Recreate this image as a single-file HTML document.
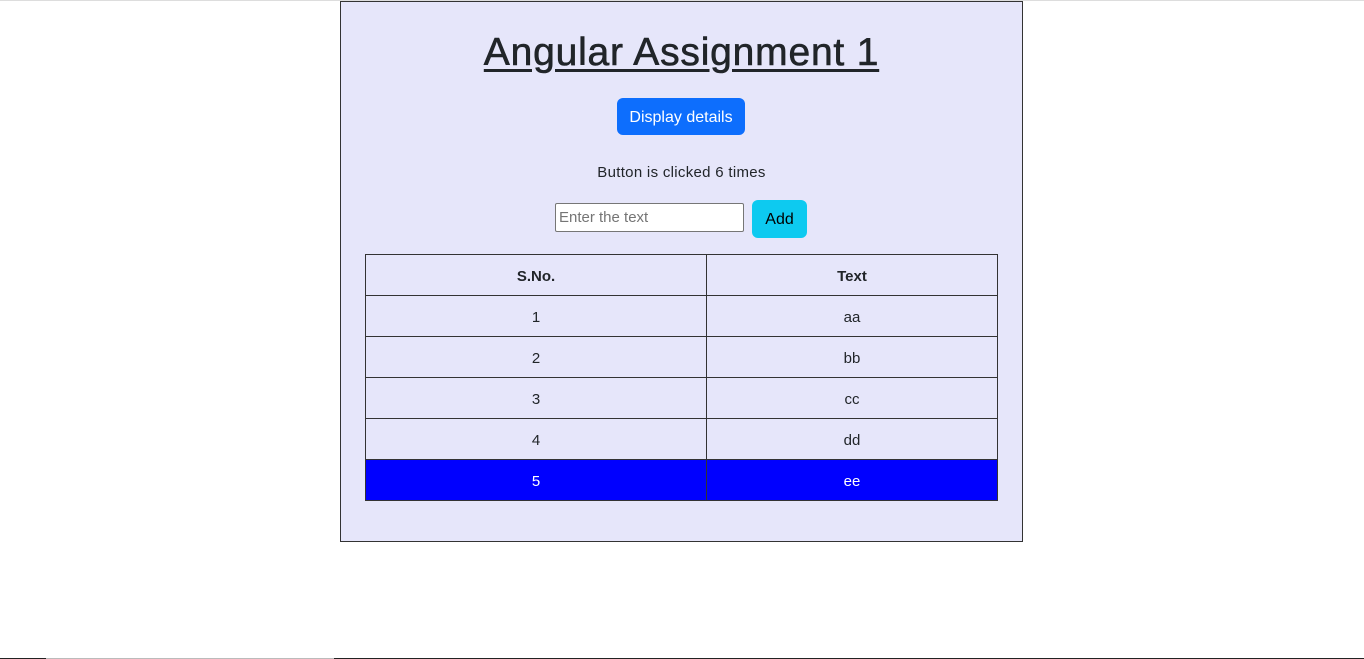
<!DOCTYPE html>
<html><head><style>
body{margin:0;width:1364px;height:659px;background:#fff;position:relative;overflow:hidden;font-family:"Liberation Sans",sans-serif;color:#212529}
.a{position:absolute}
.box{left:340px;top:1px;width:681px;height:539px;border:1px solid #333;background:#e6e6fa}
.t{left:340px;width:683px;text-align:center}
table{position:absolute;left:365px;top:254px;border-collapse:collapse;width:633px}
td{border:1px solid #333;height:41px;text-align:center;font-size:15px;padding:3px 0 0 0;box-sizing:border-box}
</style></head><body>
<div class="a" style="left:0;top:0;width:1364px;height:1px;background:#ddd"></div>
<div class="a box"></div>
<div class="a t" style="top:28px;font-size:39px;line-height:50px;text-decoration:underline;text-underline-offset:4px;letter-spacing:0.8px;-webkit-text-stroke:0.6px #212529">Angular Assignment 1</div>
<div class="a" style="left:617px;top:98px;width:128px;height:37px;background:#0d6efd;border-radius:6px;color:#fff;font-size:16px;line-height:39px;text-align:center">Display details</div>
<div class="a t" style="top:163px;font-size:15px;line-height:20px;letter-spacing:0.3px">Button is clicked 6 times</div>
<div class="a" style="left:555px;top:203px;background:#fff;border:1px solid #767676;border-radius:2px;font-size:15px;line-height:27px;color:#757575;padding-left:3px;box-sizing:border-box;width:189px;height:29px">Enter the text</div>
<div class="a" style="left:752px;top:200px;width:55px;height:38px;background:#0dcaf0;border-radius:6px;color:#000;font-size:16px;line-height:40px;text-align:center">Add</div>
<table>
<tr><td style="width:341px;font-weight:bold">S.No.</td><td style="font-weight:bold">Text</td></tr>
<tr><td>1</td><td>aa</td></tr>
<tr><td>2</td><td>bb</td></tr>
<tr><td>3</td><td>cc</td></tr>
<tr><td>4</td><td>dd</td></tr>
<tr style="background:#00f;color:#fff"><td>5</td><td>ee</td></tr>
</table>
<div class="a" style="left:0;top:658px;width:1364px;height:1px;background:#222"></div>
<div class="a" style="left:46px;top:658px;width:288px;height:1px;background:#bbb"></div>
</body></html>
